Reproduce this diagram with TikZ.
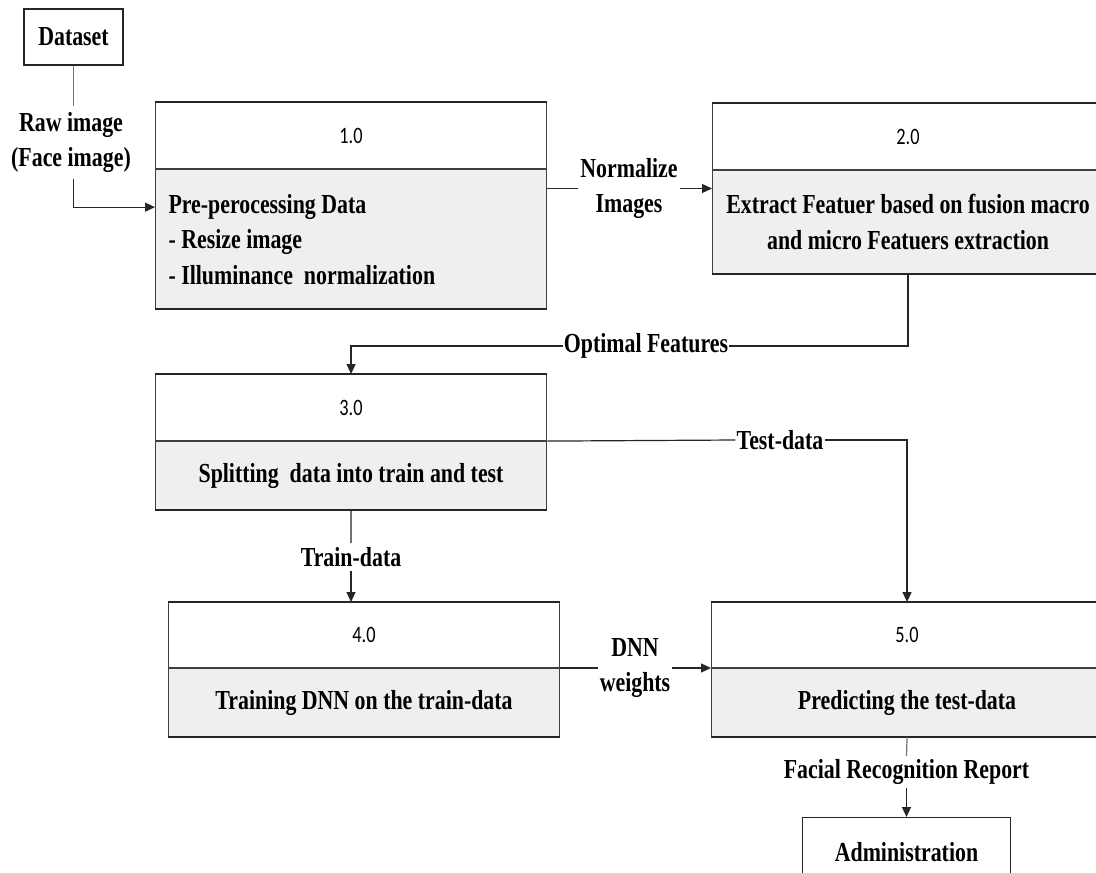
\documentclass[tikz,border=0pt]{standalone}
\usepackage{fontspec}
\setmainfont{Liberation Serif}
\newfontfamily\lblfont[FakeStretch=0.795]{Liberation Serif}
\newfontfamily\numfont[FakeStretch=0.78]{Carlito}
\usetikzlibrary{arrows.meta}
\definecolor{bodygray}{HTML}{EFEFEF}
\definecolor{linegray}{HTML}{262626}
\begin{document}
\begin{tikzpicture}[x=1pt,y=-1pt,
  hdr/.style={draw=black!75, line width=1.1pt, fill=white, minimum width=391pt,
    inner sep=0pt, anchor=north west, font=\numfont\fontsize{23.5}{26}\selectfont},
  bdy/.style={draw=black!75, line width=1.1pt, fill=bodygray, minimum width=391pt,
    inner sep=0pt, anchor=north, align=flush center,
    font=\lblfont\bfseries\fontsize{27.5}{35.5}\selectfont},
  ext/.style={draw=black!85, line width=1.3pt, fill=white, inner sep=0pt,
    font=\lblfont\bfseries\fontsize{27.5}{30}\selectfont},
  lab/.style={font=\lblfont\bfseries\fontsize{27.5}{35}\selectfont, align=flush center,
    inner xsep=2pt, inner ysep=4pt},
  edge/.style={draw=black!85, line width=2.2pt},
  conn/.style={draw=linegray, line width=1.2pt},
  arr/.style={conn, -{Triangle[length=10pt,width=9pt]}}
]
\clip (0,0) rectangle (1096,873);
\fill[white] (0,0) rectangle (1096,873);

% external entities
\node[ext, minimum width=99pt, minimum height=56pt] (ds) at (73.5,37) {Dataset};
\node[ext, minimum width=208pt, minimum height=90pt, anchor=north]
  (adm) at (906.5,817) {};
\node[font=\lblfont\bfseries\fontsize{27.5}{30}\selectfont] (admt) at (906.5,852) {Administration};

% process 1.0
\node[hdr, minimum height=66pt] (h1) at (155,102) {1.0};
\node[bdy, minimum height=139pt, text width=365pt, align=flush left, inner xsep=13pt]
  (b1) at (h1.south) {Pre-perocessing Data\\- Resize image\\- Illuminance\ \ normalization};

% process 2.0
\node[hdr, minimum height=66pt] (h2) at (712,103) {2.0};
\node[bdy, minimum height=103pt] (b2) at (h2.south)
  {Extract Featuer based on fusion macro\\and micro Featuers extraction};

% process 3.0
\node[hdr, minimum height=66pt] (h3) at (155,374) {3.0};
\node[bdy, minimum height=68pt] (b3) at (h3.south) {Splitting\ \ data into train and test};

% process 4.0
\node[hdr, minimum height=65pt] (h4) at (168,602) {4.0};
\node[bdy, minimum height=68pt] (b4) at (h4.south) {Training DNN on the train-data};

% process 5.0
\node[hdr, minimum height=65pt] (h5) at (711,602) {5.0};
\node[bdy, minimum height=68pt] (b5) at (h5.south) {Predicting the test-data};

% thicker top and bottom edges
\foreach \h/\b in {h1/b1,h2/b2,h3/b3,h4/b4,h5/b5}{
  \draw[edge] (\h.north west) -- (\h.north east);
  \draw[edge] (\b.south west) -- (\b.south east);
}

% labels
\node[lab, inner ysep=6pt] (rw) at (71,142.5) {Raw image\\(Face image)};
\node[lab] (nl) at (629,188.5) {Normalize\\Images};
\node[lab, inner xsep=1pt] (of) at (646,346) {Optimal Features};
\node[lab, inner xsep=1pt] (td) at (780,440) {Test-data};
\node[lab] (trd) at (351,557) {Train-data};
\node[lab] (dnn) at (635,668) {DNN\\weights};
\node[lab, inner ysep=3pt] (frr) at (906.5,772) {Facial Recognition Report};

% connectors
\draw[conn, draw=black!55] (ds.south) -- (ds.south |- rw.north);
\draw[arr] (ds.south |- rw.south) |- ([yshift=32pt]b1.west);

\draw[conn] (nl.west -| b1.east) -- (nl.west);
\draw[arr] (nl.east) -- (nl.east -| b2.west);

\draw[conn] (b2.south) |- (of.east);
\draw[arr] (of.west) -| (h3.north);

\draw[conn] (h3.south east) -- (td.west);
\draw[arr] (td.east) -| (h5.north);

\draw[conn] (b3.south) -- (trd.north);
\draw[arr] (trd.south) -- (trd.south |- h4.north);

\draw[conn] (dnn.west -| h4.south east) -- (dnn.west);
\draw[arr] (dnn.east) -- (dnn.east -| h5.south west);

\draw[conn, draw=black!55] (b5.south) -- (frr.north);
\draw[arr] (frr.south) -- (adm.north);
\end{tikzpicture}
\end{document}
